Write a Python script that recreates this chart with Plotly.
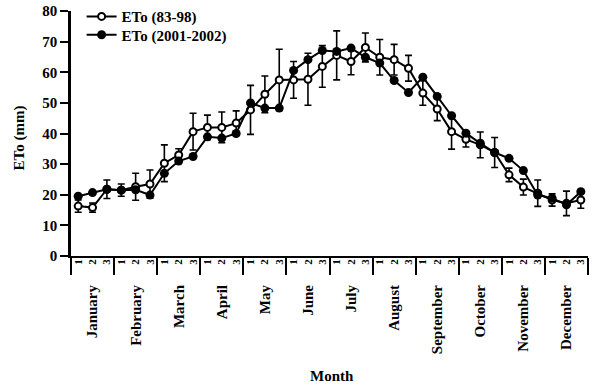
import plotly.graph_objects as go

months = ["January", "February", "March", "April", "May", "June", "July",
          "August", "September", "October", "November", "December"]
dekad_labels = ["1", "2", "3"] * 12

eto_8398 = [16.3, 15.8, 21.8, 21.5, 22.6, 23.5, 30.3, 33.0, 40.6, 42.0, 42.0, 43.4,
            47.7, 52.8, 57.5, 57.5, 57.7, 61.9, 65.5, 63.5, 68.1, 64.9, 64.1, 61.3,
            53.2, 48.0, 40.6, 38.1, 36.3, 33.8, 26.5, 22.5, 20.5, 18.3, 17.2, 18.3]
eto_8398_sd = [2.0, 1.5, 3.0, 2.0, 4.4, 4.6, 6.0, 2.0, 6.0, 4.0, 5.0, 4.0,
               8.0, 6.0, 10.0, 6.0, 8.5, 6.8, 8.0, 4.3, 4.7, 5.8, 5.0, 4.2,
               4.0, 3.8, 5.7, 2.5, 4.2, 4.9, 2.2, 2.6, 4.3, 2.0, 4.0, 2.7]
eto_0102 = [19.5, 20.7, 21.8, 21.5, 21.6, 19.9, 27.0, 31.0, 32.5, 38.9, 38.5, 40.0,
            50.0, 48.3, 48.3, 60.6, 64.1, 67.1, 66.8, 67.9, 64.9, 63.0, 57.3, 53.4,
            58.4, 52.1, 45.8, 40.1, 36.8, 33.8, 31.9, 27.9, 19.9, 18.9, 16.7, 21.0]

n = len(eto_8398)
xpos = [i + 0.5 for i in range(n)]
FONT = "Liberation Serif"
legend_font = dict(family=FONT, size=15, color="black", weight="bold")

fig = go.Figure()
fig.add_trace(go.Scatter(
    x=xpos, y=eto_8398, name="ETo (83-98)", mode="lines+markers", legend="legend",
    line=dict(color="black", width=2),
    marker=dict(symbol="circle", size=7, color="white", line=dict(color="black", width=2)),
    error_y=dict(type="data", array=eto_8398_sd, visible=True, color="black",
                 thickness=1.6, width=3.5),
))
fig.add_trace(go.Scatter(
    x=xpos, y=eto_0102, name="ETo (2001-2002)", mode="lines+markers", legend="legend2",
    line=dict(color="black", width=2),
    marker=dict(symbol="circle", size=9, color="black"),
))
# helper traces for the label axes
fig.add_trace(go.Scatter(x=[], y=[], xaxis="x2", showlegend=False, hoverinfo="skip"))
fig.add_trace(go.Scatter(x=[], y=[], xaxis="x3", showlegend=False, hoverinfo="skip"))

fig.update_layout(
    width=596, height=387,
    margin=dict(l=71, r=8, t=11, b=131, autoexpand=False),
    plot_bgcolor="white", paper_bgcolor="white",
    showlegend=True,
    legend=dict(x=0.0205, y=0.977, xanchor="left", yanchor="middle",
                bgcolor="rgba(0,0,0,0)", font=legend_font),
    legend2=dict(x=0.0205, y=0.902, xanchor="left", yanchor="middle",
                 bgcolor="rgba(0,0,0,0)", font=legend_font),
    xaxis=dict(range=[0, 36], tickmode="array", tickvals=list(range(0, 37, 3)),
               showticklabels=False, ticks="outside", ticklen=17, tickwidth=2,
               tickcolor="black", showline=True, linecolor="black", linewidth=2,
               showgrid=False, zeroline=False, automargin=False),
    xaxis2=dict(range=[0, 36], overlaying="x", anchor="y", side="bottom",
                tickmode="array", tickvals=xpos, ticktext=dekad_labels, tickangle=-90,
                ticks="", showline=False, showgrid=False, zeroline=False, automargin=False,
                tickfont=dict(family=FONT, size=11, color="black", weight="bold")),
    xaxis3=dict(range=[0, 36], overlaying="x", anchor="y", side="bottom",
                tickmode="array", tickvals=[1.5 + 3 * k for k in range(12)], ticktext=months,
                tickangle=-90, ticks="", showline=False, showgrid=False, zeroline=False,
                ticklabelstandoff=25, automargin=False,
                tickfont=dict(family=FONT, size=15, color="black", weight="bold")),
    yaxis=dict(range=[0, 80], dtick=10, tick0=0, ticks="outside", ticklen=8, tickwidth=2,
               tickcolor="black", showline=True, linecolor="black", linewidth=2.5,
               showgrid=False, zeroline=False, automargin=False, ticklabelstandoff=0,
               tickfont=dict(family=FONT, size=15, color="black", weight="bold")),
    annotations=[
        dict(text="Month", xref="paper", yref="paper", x=0.505, y=0, yshift=-120,
             xanchor="center", yanchor="middle", showarrow=False,
             font=dict(family=FONT, size=15, color="black", weight="bold")),
        dict(text="ETo (mm)", xref="paper", yref="paper", x=0, xshift=-52, y=0.48,
             xanchor="center", yanchor="middle", showarrow=False, textangle=-90,
             font=dict(family=FONT, size=15, color="black", weight="bold")),
    ],
)

# remove the browser's default 8px page margin so the figure sits at the window corner
fig.write_html("out.html", config={"displayModeBar": False},
               post_script="document.body.style.margin='0';")
